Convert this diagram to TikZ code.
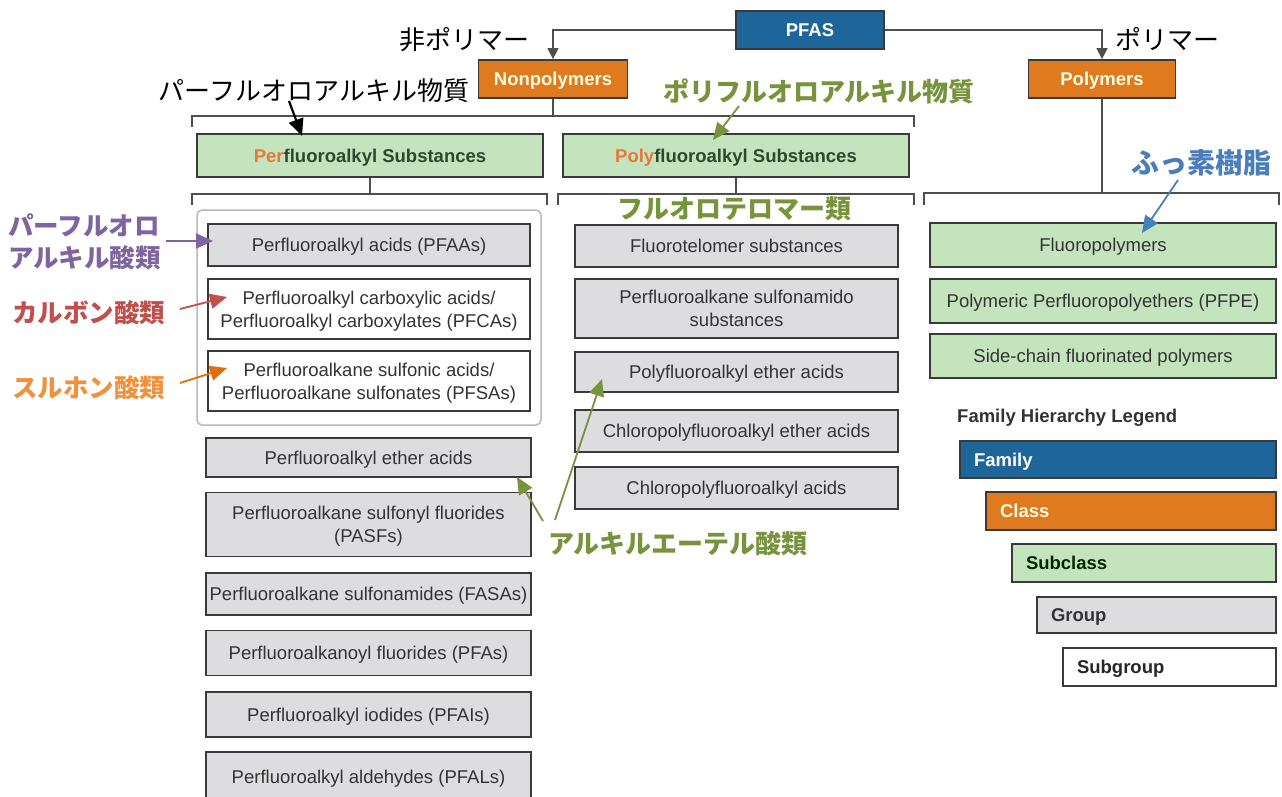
\documentclass[tikz,border=0pt]{standalone}
\usepackage{fontspec}
\setmainfont{Liberation Sans}
\newfontfamily\jp{Noto Sans CJK JP}
\usetikzlibrary{arrows.meta}
\definecolor{famblue}{HTML}{1E6699}
\definecolor{clsorange}{HTML}{E07A1F}
\definecolor{subgreen}{HTML}{C4E4BE}
\definecolor{grpgray}{HTML}{DDDDDF}
\definecolor{edgec}{HTML}{3A3A3A}
\definecolor{txtc}{HTML}{333333}
\definecolor{anpurple}{HTML}{8064A2}
\definecolor{anred}{HTML}{C0504D}
\definecolor{anorange}{HTML}{F0923C}
\definecolor{anorangeA}{HTML}{E36C0A}
\definecolor{angreen}{HTML}{77933C}
\definecolor{anblue}{HTML}{4A7EBB}
\definecolor{perorange}{HTML}{E8773A}
\begin{document}
\begin{tikzpicture}[x=1pt,y=-1pt,
  box/.style={draw=edgec,line width=1.8pt,inner sep=0pt,align=center,text=txtc,text depth=0pt,
    font=\fontsize{18.5}{23}\selectfont},
  boldbox/.style={box,font=\fontsize{18.5}{23}\selectfont\bfseries},
  fambox/.style={boldbox,fill=famblue,text=white},
  clsbox/.style={boldbox,fill=clsorange,text=white!88!yellow},
  subbox/.style={box,fill=subgreen},
  subboldbox/.style={boldbox,fill=subgreen,text=txtc!90!green},
  grpbox/.style={box,fill=grpgray},
  sgrpbox/.style={box,fill=white},
  legbox/.style={inner xsep=14pt,align=left},
  link/.style={draw=edgec!90,line width=1.4pt},
  tipA/.style={-{Triangle[length=11pt,width=11pt]}},
  annarrow/.style={line width=1.8pt,-{Triangle[length=17pt,width=15pt]}},
  jpblack/.style={font=\jp\fontsize{26}{30}\selectfont,text=black,inner sep=0pt},
  jpcol/.style={font=\jp\bfseries\fontsize{25.5}{32}\selectfont,inner sep=0pt},
]
\useasboundingbox (0,0) rectangle (1282,796);
\clip (0,0) rectangle (1282,796);
\fill[white] (0,0) rectangle (1282,796);

% family / classes
\node[fambox,minimum width=148pt,minimum height=38pt] (pfas) at (810,30) {PFAS};
\node[clsbox,minimum width=149pt,minimum height=38pt] (nonpoly) at (553,79) {Nonpolymers};
\node[clsbox,minimum width=147pt,minimum height=38pt] (poly) at (1102,79) {Polymers};

% subclasses
\node[subboldbox,minimum width=346pt,minimum height=43pt] (perf) at (370,155.5)
  {\textcolor{perorange}{Per}fluoroalkyl Substances};
\node[subboldbox,minimum width=346pt,minimum height=43pt] (polyf) at (736,155.5)
  {\textcolor{perorange}{Poly}fluoroalkyl Substances};

% left column
\node[draw=gray!55,line width=1.5pt,rounded corners=5pt,minimum width=344pt,minimum height=215pt,inner sep=0pt] (pfaagrp) at (369,317.5) {};
\node[grpbox,minimum width=322pt,minimum height=42pt] (pfaa) at (369,245) {Perfluoroalkyl acids (PFAAs)};
\node[sgrpbox,minimum width=322pt,minimum height=60pt] (pfca) at (369,309) {Perfluoroalkyl carboxylic acids/\\Perfluoroalkyl carboxylates (PFCAs)};
\node[sgrpbox,minimum width=322pt,minimum height=60pt] (pfsa) at (369,381) {Perfluoroalkane sulfonic acids/\\Perfluoroalkane sulfonates (PFSAs)};
\node[grpbox,minimum width=325pt,minimum height=39pt] (pfea) at (368.5,457.5) {Perfluoroalkyl ether acids};
\node[grpbox,minimum width=325pt,minimum height=64pt] (pasf) at (368.5,524.5) {Perfluoroalkane sulfonyl fluorides\\(PASFs)};
\node[grpbox,minimum width=325pt,minimum height=42pt] (fasa) at (368.5,594) {Perfluoroalkane sulfonamides (FASAs)};
\node[grpbox,minimum width=325pt,minimum height=45pt] (pfaf) at (368.5,653) {Perfluoroalkanoyl fluorides (PFAs)};
\node[grpbox,minimum width=325pt,minimum height=45pt] (pfai) at (368.5,714.5) {Perfluoroalkyl iodides (PFAIs)};
\node[grpbox,minimum width=325pt,minimum height=50pt] (pfal) at (368.5,777) {Perfluoroalkyl aldehydes (PFALs)};

% middle column
\node[grpbox,minimum width=323pt,minimum height=42pt] (ft) at (736.5,246) {Fluorotelomer substances};
\node[grpbox,minimum width=323pt,minimum height=59pt] (sas) at (736.5,308.5) {Perfluoroalkane sulfonamido\\substances};
\node[grpbox,minimum width=323pt,minimum height=40pt] (pea) at (736.5,372) {Polyfluoroalkyl ether acids};
\node[grpbox,minimum width=323pt,minimum height=42pt] (cpea) at (736.5,431) {Chloropolyfluoroalkyl ether acids};
\node[grpbox,minimum width=323pt,minimum height=42pt] (cpa) at (736.5,488) {Chloropolyfluoroalkyl acids};

% right column
\node[subbox,minimum width=346pt,minimum height=44pt] (fp) at (1103,245) {Fluoropolymers};
\node[subbox,minimum width=346pt,minimum height=44pt] (pfpe) at (1103,301) {Polymeric Perfluoropolyethers (PFPE)};
\node[subbox,minimum width=346pt,minimum height=44pt] (scf) at (1103,356) {Side-chain fluorinated polymers};

% legend
\node[anchor=west,inner sep=0pt,text depth=0pt,text=txtc,font=\fontsize{18.5}{23}\selectfont\bfseries] (legt) at (957,416) {Family Hierarchy Legend};
\node[fambox,legbox,minimum width=316pt,text width=288pt,minimum height=37pt] (lfam) at (1118,459.5) {Family};
\node[clsbox,legbox,minimum width=290pt,text width=262pt,minimum height=38pt] (lcls) at (1131,511) {Class};
\node[subboldbox,legbox,minimum width=264pt,text width=236pt,minimum height=38pt,text=black!85!green] (lsub) at (1144,563) {Subclass};
\node[grpbox,legbox,minimum width=239pt,text width=211pt,minimum height=36pt,font=\fontsize{18.5}{23}\selectfont\bfseries] (lgrp) at (1156.5,615) {Group};
\node[sgrpbox,legbox,minimum width=213pt,text width=185pt,minimum height=38pt,font=\fontsize{18.5}{23}\selectfont\bfseries,text=black!85] (lsgrp) at (1169.5,667) {Subgroup};

% connectors
\draw[link,tipA] (pfas.west) -| (nonpoly.north);
\draw[link,tipA] (pfas.east) -| (poly.north);

\coordinate (b1l) at (192,116);
\coordinate (b1r) at (914,116);
\draw[link] (nonpoly.south) -- (nonpoly.south |- b1l);
\draw[link] ([yshift=-11pt]b1l) -- (b1l) -- (b1r) -- ([yshift=-11pt]b1r);

\coordinate (b2l) at (192,194);
\coordinate (b2r) at (547,194);
\draw[link] (perf.south) -- (perf.south |- b2l);
\draw[link] ([yshift=-11pt]b2l) -- (b2l) -- (b2r) -- ([yshift=-11pt]b2r);

\coordinate (b3l) at (558,194);
\coordinate (b3r) at (914,194);
\draw[link] (polyf.south) -- (polyf.south |- b3l);
\draw[link] ([yshift=-11pt]b3l) -- (b3l) -- (b3r) -- ([yshift=-11pt]b3r);

\coordinate (b4l) at (924,193);
\coordinate (b4r) at (1279,193);
\draw[link] (poly.south) -- (poly.south |- b4l);
\draw[link] ([yshift=-12pt]b4l) -- (b4l) -- (b4r) -- ([yshift=-12pt]b4r);

% Japanese annotations
\node[jpblack] (jnonpoly) at (464,40) {非ポリマー};
\node[jpblack] (jpoly) at (1167,39) {ポリマー};
\node[jpblack] (jperf) at (314,91) {パーフルオロアルキル物質};
\node[jpcol,text=angreen,font=\jp\bfseries\fontsize{26}{30}\selectfont] (jpolyf) at (819,91) {ポリフルオロアルキル物質};
\node[jpcol,text=angreen,font=\jp\bfseries\fontsize{26}{30}\selectfont] (jft) at (734,209) {フルオロテロマー類};
\node[jpcol,text=anblue,font=\jp\bfseries\fontsize{28}{32}\selectfont] (jfp) at (1201,163) {ふっ素樹脂};
\node[jpcol,text=anpurple,anchor=west,align=left] (jpfaa) at (8,242) {パーフルオロ\\アルキル酸類};
\node[jpcol,text=anred,anchor=west] (jpfca) at (12,313) {カルボン酸類};
\node[jpcol,text=anorange,anchor=west] (jpfsa) at (12,388) {スルホン酸類};
\node[jpcol,text=angreen,font=\jp\bfseries\fontsize{26}{30}\selectfont] (jether) at (678,544) {アルキルエーテル酸類};

% annotation arrows
\coordinate (a1s) at (289,101); \coordinate (a1e) at (302,136);
\coordinate (a2s) at (739,106); \coordinate (a2e) at (713,140);
\coordinate (a3s) at (1178,180); \coordinate (a3e) at (1142,233);
\coordinate (a4s) at (166,241); \coordinate (a4e) at (213,241);
\coordinate (a5s) at (180,309); \coordinate (a5e) at (227,297);
\coordinate (a6s) at (180,383); \coordinate (a6e) at (227,368);
\coordinate (a7s) at (543,521); \coordinate (a7e) at (517,477);
\coordinate (a8s) at (555,520); \coordinate (a8e) at (602,379);
\draw[annarrow,black,line width=2.2pt] (a1s) -- (a1e);
\draw[annarrow,angreen] (a2s) -- (a2e);
\draw[annarrow,anblue] (a3s) -- (a3e);
\draw[annarrow,anpurple] (a4s) -- (a4e);
\draw[annarrow,anred] (a5s) -- (a5e);
\draw[annarrow,anorangeA] (a6s) -- (a6e);
\draw[annarrow,angreen] (a7s) -- (a7e);
\draw[annarrow,angreen] (a8s) -- (a8e);
\end{tikzpicture}
\end{document}
